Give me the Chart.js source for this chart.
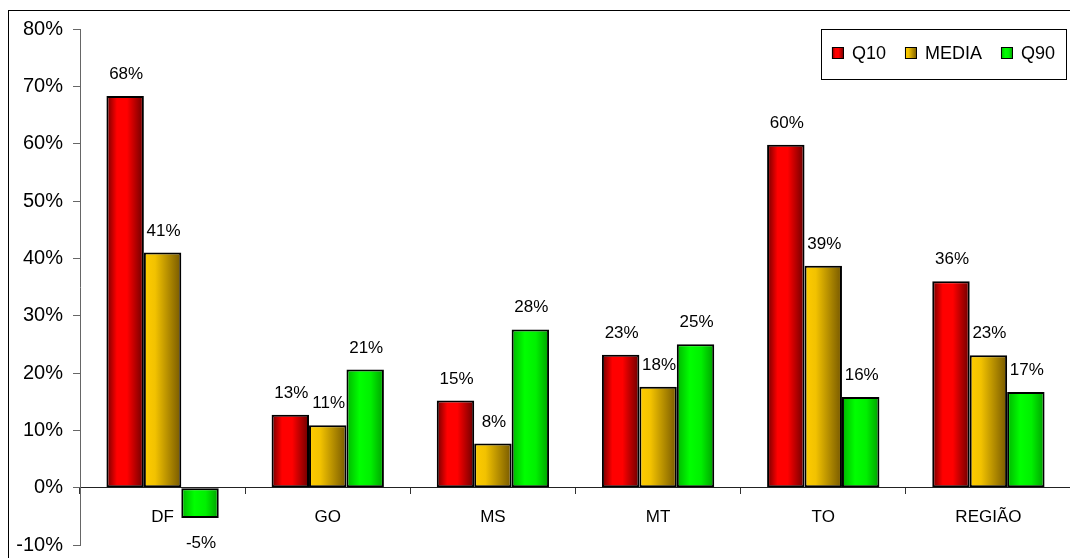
<!DOCTYPE html>
<html>
<head>
<meta charset="utf-8">
<script src="https://cdn.jsdelivr.net/npm/chart.js@4"></script>
<style>
  html, body { margin: 0; padding: 0; background: #fff; overflow: hidden; }
  #wrap { position: relative; width: 1070px; height: 558px; overflow: hidden; }
  #frame { position: absolute; left: 8px; top: 10px; width: 1200px; height: 700px; border: 1px solid #000; box-sizing: border-box; }
  #myChart { position: absolute; left: 0; top: 0; }
</style>
</head>
<body>
<div id="wrap">
  <div id="frame"></div>
  <canvas id="myChart" width="1079" height="567"></canvas>
</div>
<script>
// DATA
const categories = ["DF", "GO", "MS", "MT", "TO", "REGIÃO"];
const q10 = [68.3, 12.7, 15.2, 23.2, 59.8, 36.0];
const media = [41.0, 10.9, 7.7, 17.6, 38.7, 23.1];
const q90 = [-5.3, 20.6, 27.6, 25.0, 15.8, 16.7];
const seriesNames = ["Q10", "MEDIA", "Q90"];
const yTicks = [-10, 0, 10, 20, 30, 40, 50, 60, 70, 80];

const FONT = "'Liberation Sans', Arial, sans-serif";

// gradient stops for each series (left -> right across the bar)
const gradStops = [
  [[0, "#6e0000"], [0.28, "#ff0000"], [0.55, "#ff0000"], [1, "#6a0000"]],
  [[0, "#ffcc00"], [0.3, "#f2c200"], [1, "#765800"]],
  [[0, "#00b400"], [0.35, "#00ff00"], [0.65, "#00f000"], [1, "#00a000"]]
];
const flatColors = ["#ff0000", "#e6b800", "#00e000"];

function makeGrad(ctx, x0, x1, stops) {
  const g = ctx.createLinearGradient(x0, 0, x1, 0);
  stops.forEach(s => g.addColorStop(s[0], s[1]));
  return g;
}

// give each bar its own horizontal gradient
const gradientPlugin = {
  id: "barGradient",
  beforeDatasetsDraw(chart) {
    const ctx = chart.ctx;
    chart.data.datasets.forEach((ds, di) => {
      const meta = chart.getDatasetMeta(di);
      meta.data.forEach(el => {
        const p = el.getProps(["x", "width"], true);
        const g = makeGrad(ctx, p.x - p.width / 2, p.x + p.width / 2, gradStops[di]);
        el.options = Object.assign({}, el.options, { backgroundColor: g });
      });
    });
  }
};

// value labels above / below bars
const labelPlugin = {
  id: "valueLabels",
  afterDatasetsDraw(chart) {
    const ctx = chart.ctx;
    ctx.save();
    ctx.font = "17px " + FONT;
    ctx.fillStyle = "#000";
    ctx.textAlign = "center";
    ctx.textBaseline = "alphabetic";
    chart.data.datasets.forEach((ds, di) => {
      const meta = chart.getDatasetMeta(di);
      meta.data.forEach((el, i) => {
        const v = ds.data[i];
        const txt = Math.round(v) + "%";
        if (v >= 0) {
          ctx.fillText(txt, el.x + 1, el.y - 17);
        } else {
          ctx.fillText(txt, el.x + 1, el.y + 30);
        }
      });
    });
    ctx.restore();
  }
};

// boxed legend inside the plot, top right
const legendPlugin = {
  id: "boxLegend",
  afterDraw(chart) {
    const ctx = chart.ctx;
    const area = chart.chartArea;
    ctx.save();
    ctx.font = "18px " + FONT;
    const marker = 12, gapText = 8, gapItem = 19, padX = 11;
    let total = padX * 2;
    chart.data.datasets.forEach((ds, i) => {
      total += marker + gapText + ctx.measureText(ds.label).width;
      if (i < chart.data.datasets.length - 1) total += gapItem;
    });
    const boxTop = area.top;
    const boxH = 50;
    const boxLeft = area.right - 5 - total;
    ctx.fillStyle = "#fff";
    ctx.fillRect(boxLeft, boxTop, total, boxH);
    ctx.strokeStyle = "#000";
    ctx.lineWidth = 1;
    ctx.strokeRect(Math.round(boxLeft) + 0.5, Math.round(boxTop) + 0.5, Math.round(total), boxH);
    let x = boxLeft + padX;
    const cy = boxTop + 24;
    chart.data.datasets.forEach((ds, i) => {
      ctx.fillStyle = makeGrad(ctx, x, x + marker, gradStops[i]);
      ctx.fillRect(x, cy - marker / 2, marker, marker);
      ctx.strokeStyle = "#000";
      ctx.strokeRect(x + 0.5, cy - marker / 2 + 0.5, marker - 1, marker - 1);
      x += marker + gapText;
      ctx.fillStyle = "#000";
      ctx.textBaseline = "middle";
      ctx.textAlign = "left";
      ctx.fillText(ds.label, x, cy + 1);
      x += ctx.measureText(ds.label).width + gapItem;
    });
    ctx.restore();
  }
};

const seriesData = [q10, media, q90];
const chartData = {
  labels: categories,
  datasets: seriesNames.map((name, i) => ({
    label: name,
    data: seriesData[i],
    backgroundColor: flatColors[i],
    borderColor: "#000",
    borderWidth: 2,
    borderSkipped: false,
    barPercentage: 1,
    categoryPercentage: 0.68
  }))
};

const canvasElement = document.getElementById("myChart");
new Chart(canvasElement.getContext("2d"), {
  type: "bar",
  data: chartData,
  options: {
    responsive: false,
    animation: false,
    events: [],
    layout: { padding: { left: 0, right: 8, top: 29, bottom: 4 } },
    plugins: {
      legend: { display: false },
      tooltip: { enabled: false }
    },
    scales: {
      x: {
        position: { y: 0 },
        offset: true,
        grid: {
          offset: true,
          drawOnChartArea: false,
          drawTicks: true,
          tickLength: 6,
          color: "#333"
        },
        border: { display: true, color: "#222", width: 1 },
        ticks: {
          color: "#000",
          padding: 13,
          maxRotation: 0,
          font: { family: FONT, size: 17 }
        }
      },
      y: {
        min: -10,
        max: 80,
        afterFit: s => { s.width = 80; },
        afterBuildTicks: s => { s.ticks = yTicks.map(v => ({ value: v })); },
        grid: {
          drawOnChartArea: false,
          drawTicks: true,
          tickLength: 7,
          color: "#666"
        },
        border: { display: true, color: "#666", width: 1 },
        ticks: {
          color: "#000",
          padding: 10,
          font: { family: FONT, size: 20 },
          callback: v => v + "%"
        }
      }
    }
  },
  plugins: [gradientPlugin, labelPlugin, legendPlugin]
});
</script>
</body>
</html>
